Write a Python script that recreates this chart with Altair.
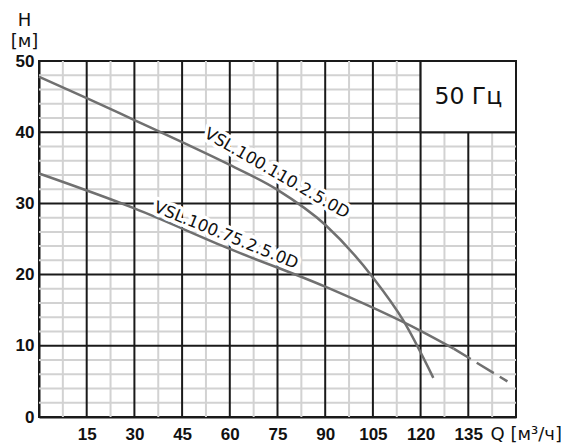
import altair as alt
import pandas as pd

# Curve data (Q in m3/h, H in m)
q1 = [0, 15, 30, 45, 60, 75, 90, 105, 114.5, 124]
h1 = [47.8, 44.8, 41.7, 38.6, 35.4, 31.9, 27.0, 19.6, 13.6, 5.5]

q2 = [0, 30, 60, 90, 120, 130.4]
h2 = [34.2, 29.3, 23.6, 18.3, 12.1, 9.6]

q2_dash = [130.4, 147.3]
h2_dash = [9.6, 5.0]

x_ticks = [15, 30, 45, 60, 75, 90, 105, 120, 135]
y_ticks = [0, 10, 20, 30, 40, 50]
x_major = [15, 30, 45, 60, 75, 90, 105, 120, 135]
x_minor = [7.5, 22.5, 37.5, 52.5, 67.5, 82.5, 97.5, 112.5, 127.5, 142.5]
y_major = [10, 20, 30, 40]
y_minor = [2, 4, 6, 8, 12, 14, 16, 18, 22, 24, 26, 28, 32, 34, 36, 38, 42, 44, 46, 48]

labels = ["VSL.100.110.2.5.0D", "VSL.100.75.2.5.0D"]
label_q = [74.8, 58.8]
label_h = [34.2, 25.5]
label_angle = [30, 22]

freq_text = "50 Гц"

xs = alt.Scale(domain=[0, 150], nice=False, zero=False)
ys = alt.Scale(domain=[0, 50], nice=False, zero=False)

common = dict(grid=False, ticks=False, domainColor="#1a1a1a", domainWidth=2,
              labelFont="Liberation Sans", labelFontWeight="bold", labelFontSize=17,
              labelColor="#111", titleFont="DejaVu Sans", titleFontWeight="normal",
              titleFontSize=18, titleColor="#111")
X_AX = alt.Axis(values=x_ticks, title="Q [м³/ч]", titleX=451, titleY=8,
                labelPadding=9, titleAnchor="start", titleAlign="left", titleBaseline="top",
                **common)
Y_AX = alt.Axis(values=y_ticks, title=["H", "[м]"], titleX=-15, titleY=-50,
                labelPadding=5, titleAngle=0, titleAlign="center", titleBaseline="top",
                titleLineHeight=21, **common)

minor_x = alt.Chart(pd.DataFrame({"x": x_minor})).mark_rule(color="#d2d2d2", strokeWidth=2).encode(
    x=alt.X("x:Q", scale=xs, axis=X_AX))
minor_y = alt.Chart(pd.DataFrame({"y": y_minor})).mark_rule(color="#d2d2d2", strokeWidth=2).encode(
    y=alt.Y("y:Q", scale=ys, axis=Y_AX))
major_x = alt.Chart(pd.DataFrame({"x": x_major})).mark_rule(color="#1a1a1a", strokeWidth=2).encode(
    x=alt.X("x:Q", scale=xs, axis=X_AX))
major_y = alt.Chart(pd.DataFrame({"y": y_major})).mark_rule(color="#1a1a1a", strokeWidth=2).encode(
    y=alt.Y("y:Q", scale=ys, axis=Y_AX))

box = alt.Chart(pd.DataFrame({"x": [120], "x2": [150], "y": [40], "y2": [50]})).mark_rect(
    fill="white", stroke="#1a1a1a", strokeWidth=2).encode(
    x=alt.X("x:Q", scale=xs, axis=X_AX), x2="x2:Q", y=alt.Y("y:Q", scale=ys, axis=Y_AX), y2="y2:Q")
box_text = alt.Chart(pd.DataFrame({"x": [135], "y": [45], "t": [freq_text]})).mark_text(
    font="DejaVu Sans", fontSize=23.5, color="#111", align="center", baseline="middle").encode(
    x=alt.X("x:Q", scale=xs, axis=X_AX), y=alt.Y("y:Q", scale=ys, axis=Y_AX), text="t:N")

def curve(q, h, dash=None):
    kw = dict(color="#707070", strokeWidth=2.5, interpolate="monotone")
    if dash:
        kw["strokeDash"] = dash
    return alt.Chart(pd.DataFrame({"q": q, "h": h})).mark_line(**kw).encode(
        x=alt.X("q:Q", scale=xs, axis=X_AX), y=alt.Y("h:Q", scale=ys, axis=Y_AX))

c1 = curve(q1, h1)
c2 = curve(q2, h2)
c2d = curve(q2_dash, h2_dash, [20, 7])

lab_layers = []
for t, q, h, a in zip(labels, label_q, label_h, label_angle):
    df = pd.DataFrame({"q": [q], "h": [h], "t": [t]})
    halo = alt.Chart(df).mark_text(font="DejaVu Sans", fontSize=16.5, angle=a, stroke="white",
                                   strokeWidth=7, strokeJoin="round", color="white",
                                   align="center", baseline="middle").encode(
        x=alt.X("q:Q", scale=xs, axis=X_AX), y=alt.Y("h:Q", scale=ys, axis=Y_AX), text="t:N")
    txt = alt.Chart(df).mark_text(font="DejaVu Sans", fontSize=16.5, angle=a, color="#111",
                                  align="center", baseline="middle").encode(
        x=alt.X("q:Q", scale=xs, axis=X_AX), y=alt.Y("h:Q", scale=ys, axis=Y_AX), text="t:N")
    lab_layers += [halo, txt]

chart = alt.layer(minor_x, minor_y, major_x, major_y, box, box_text, c1, c2, c2d, *lab_layers).properties(
    width=477, height=356,
    background="white",
    autosize=alt.AutoSizeParams(type="none"),
    padding={"left": 31, "top": 53, "right": 45, "bottom": 27},
).configure_view(stroke="#1a1a1a", strokeWidth=2).configure_axis(**common)

chart.save("out.html", embed_options={"renderer": "svg", "actions": False})
